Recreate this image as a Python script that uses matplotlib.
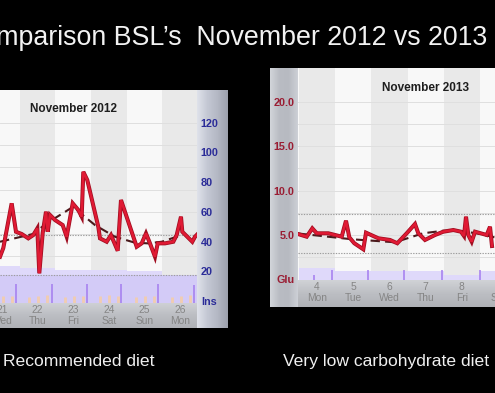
import matplotlib.pyplot as plt
import matplotlib.patheffects as pe
from matplotlib.colors import LinearSegmentedColormap
import numpy as np

plt.rcParams['font.family'] = ['Liberation Sans', 'DejaVu Sans']

W, H = 495, 393
INS = 6.0  # insulin units per glucose unit (shared vertical scale)

# ---- November 2012, recommended diet (x = day of month + fraction of day)
days12 = [21, 22, 23, 24, 25, 26]
wd12 = ['Wed', 'Thu', 'Fri', 'Sat', 'Sun', 'Mon']
t12 = [21.444, 21.537, 21.772, 21.893, 22.053, 22.239, 22.379, 22.492, 22.548, 22.643,
       22.736, 22.784, 22.848, 22.989, 23.205, 23.317, 23.486, 23.643, 23.739, 23.784,
       23.896, 24.205, 24.253, 24.441, 24.562, 24.750, 24.843, 25.284, 25.424, 25.545,
       25.657, 25.798, 25.874, 26.079, 26.312, 26.407, 26.528, 26.565, 26.846, 26.921,
       26.98]
g12 = [4.97, 5.95, 10.96, 7.77, 7.52, 7.03, 7.40, 8.15, 3.11, 7.63,
       10.02, 7.77, 9.65, 9.09, 8.52, 7.21, 10.96, 10.21, 9.46, 14.50,
       13.57, 8.33, 7.03, 6.65, 7.40, 5.64, 11.33, 6.09, 6.47, 7.59,
       6.47, 4.97, 6.47, 6.47, 6.65, 7.40, 9.46, 7.77, 6.65, 7.21,
       7.45]
trend12_t = [21.444, 22.371, 22.756, 23.503, 23.691, 24.112, 24.674, 25.236, 25.601, 25.986, 26.548]
trend12_g = [6.65, 7.52, 8.72, 10.58, 9.90, 8.52, 7.21, 6.54, 6.47, 6.65, 7.40]
bolus12_t = [21.52, 21.772, 22.267, 22.52, 22.756, 23.27, 23.522, 23.767, 24.253,
             24.514, 24.767, 25.264, 25.517, 25.77, 26.267, 26.52, 26.781]
bolus12_u = [3.6, 3.4, 3.0, 3.6, 3.8, 3.0, 3.6, 3.4, 3.2, 3.8, 3.6, 3.0, 3.6, 3.4, 3.0, 3.6, 3.8]
basal12_t = [21.885, 22.896, 23.888, 24.843, 25.882, 26.893]
basal12_u = [11.2, 11.4, 11.4, 11.6, 11.2, 11.0]
daily12_u = [23.6, 22.2, 20.9, 20.9, 20.2, 17.5]
low12_u = 17.4

# ---- November 2013, very low carbohydrate diet
days13 = [4, 5, 6, 7, 8, 9]
wd13 = ['Mon', 'Tue', 'Wed', 'Thu', 'Fri', 'Sat']
t13 = [3.975, 4.215, 4.370, 4.492, 4.812, 5.182, 5.301, 5.392, 5.530, 5.779,
       5.854, 6.193, 6.517, 6.718, 6.978, 7.207, 7.298, 7.483, 7.760, 7.989,
       8.265, 8.478, 8.561, 8.616, 8.680, 8.773, 8.865, 9.188, 9.279, 9.334]
g13 = [5.11, 4.81, 5.75, 5.19, 5.19, 4.81, 6.61, 4.74, 4.07, 3.39,
       5.26, 4.63, 4.44, 4.07, 5.19, 6.24, 5.19, 4.44, 5.00, 5.37,
       5.56, 5.37, 4.89, 7.06, 5.00, 4.25, 5.37, 5.00, 5.93, 3.76]
trend13_t = [3.975, 5.459, 6.655, 7.428, 7.989, 8.450, 8.912, 9.42]
trend13_g = [5.17, 4.52, 4.18, 5.19, 5.48, 5.45, 5.19, 4.72]
basal13_t = [4.417, 4.914, 5.909, 6.903, 7.953, 9.0]
basal13_u = [2.7, 6.3, 6.3, 6.3, 6.3, 6.3]
daily13_u = [7.9, 5.7, 5.7, 5.7, 3.0, 5.7]

glu_ticks = [0, 5, 10, 15, 20]
glu_labels = ['Glu', '5.0', '10.0', '15.0', '20.0']
ins_ticks = [0, 20, 40, 60, 80, 100, 120]
ins_labels = ['Ins', '20', '40', '60', '80', '100', '120']
target = [2.95, 7.4]
grid = [2.5, 5, 7.5, 10, 12.5, 15, 17.5, 20]


def px(x0, y0, x1, y1):
    return [x0 / W, 1 - y1 / H, (x1 - x0) / W, (y1 - y0) / H]


def strip(rect, colors, horizontal=True):
    a = fig.add_axes(px(*rect), zorder=-1)
    cmap = LinearSegmentedColormap.from_list('s', colors)
    grad = np.linspace(0, 1, 64)
    grad = grad[None, :] if horizontal else grad[:, None]
    a.imshow(grad, cmap=cmap, aspect='auto')
    a.axis('off')


def panel(rect, xlim, ylim, days, wdays, t, g, tt, tg, daily, bas_t, bas_u,
          bol_t=None, bol_u=None, low=None):
    ax = fig.add_axes(px(*rect))
    ax.set_xlim(xlim)
    ax.set_ylim(ylim)
    ax.set_facecolor('#f8f8f8')
    for s in ax.spines.values():
        s.set_visible(False)
    ax.set_xticks([])
    for d in days:
        if d % 2 == 0:
            ax.axvspan(d, d + 1, color='#e9e9e9', lw=0, zorder=0)
    for v in grid:
        ax.axhline(v, color='#dfdfdf', lw=0.7, zorder=0.5)
    ax.stairs(np.array(daily) / INS, days + [days[-1] + 1], baseline=ylim[0],
              fill=True, color='#dfd9fa', zorder=1)
    if low is not None:
        ax.axhspan(ylim[0], low / INS, color='#d3cbf7', lw=0, zorder=1.1)
    for v in target:
        ax.axhline(v, color='#9c9c9c', lw=0.8, ls=(0, (1.2, 1.2)), zorder=1.5)
    if bol_t is not None:
        ax.vlines(bol_t, ylim[0], np.array(bol_u) / INS, color='#f1cdb0', lw=2.0, zorder=2)
    ax.vlines(bas_t, ylim[0], np.array(bas_u) / INS, color='#a47cef', lw=1.1, zorder=2)
    ax.plot(tt, tg, color='#4a1a1c', lw=1.5, dashes=(4.5, 2.5), zorder=3)
    ax.plot(t, g, color='#e01a34', lw=1.8, zorder=4, solid_joinstyle='miter',
            path_effects=[pe.Stroke(linewidth=2.9, foreground='#a00d20'), pe.Normal()])
    for d, w in zip(days, wdays):
        for lab, off in ((str(d), -5.2), (w, -12.8)):
            ax.annotate(lab, xy=(d + 0.5, 0), xycoords=('data', 'axes fraction'),
                        xytext=(0, off), textcoords='offset points', ha='center',
                        va='center', fontsize=7.4, color='#858585',
                        annotation_clip=False)
    return ax


fig = plt.figure(figsize=(W / 100, H / 100), dpi=100, facecolor='black')

# left panel (November 2012)
strip((197, 90, 228, 328), ['#dfe2ea', '#c4c8d4', '#b4b8c4', '#9da1ad'])
strip((0, 303, 197, 328), ['#d0d2d6', '#bcbec3', '#afb1b6'], horizontal=False)
ax1 = panel((0, 90, 197, 303), (21.444, 26.978), (-0.22, 23.67), days12, wd12,
            t12, g12, trend12_t, trend12_g, daily12_u, basal12_t, basal12_u,
            bolus12_t, bolus12_u, low12_u)
ax1.set_yticks([])
sec = ax1.secondary_yaxis('right', functions=(lambda v: v * INS, lambda v: v / INS))
sec.set_yticks(ins_ticks, ins_labels, color='#2b2c98', fontweight='bold', fontsize=7.8)
sec.tick_params(length=0, pad=2.7)
sec.spines['right'].set_visible(False)

# right panel (November 2013)
strip((270, 68, 298, 307), ['#d2d5da', '#b9bcc3', '#b7bac1', '#cdd0d6'])
strip((298, 280, 495, 307), ['#d0d2d6', '#bcbec3', '#afb1b6'], horizontal=False)
ax2 = panel((298, 68, 495, 280), (3.975, 9.417), (-0.07, 23.81), days13, wd13,
            t13, g13, trend13_t, trend13_g, daily13_u, basal13_t, basal13_u)
ax2.set_yticks(glu_ticks, glu_labels, color='#9a1d33', fontweight='bold', fontsize=7.8)
ax2.tick_params(axis='y', length=0, pad=2.7)

fig.text(73 / W, 1 - 109.5 / H, 'November 2012', ha='center', va='center',
         fontsize=8.5, fontweight='bold', color='#1e1e1e')
fig.text(426 / W, 1 - 88 / H, 'November 2013', ha='center', va='center',
         fontsize=8.5, fontweight='bold', color='#1e1e1e')

fig.text(487 / W, 1 - 45 / H, 'Comparison BSL\u2019s  November 2012 vs 2013',
         ha='right', va='baseline', fontsize=19.3, color='#f2f2f2')
fig.text(3 / W, 1 - 365.7 / H, 'Recommended diet', ha='left', va='baseline',
         fontsize=12.6, color='#f0f0f0')
fig.text(283 / W, 1 - 365.7 / H, 'Very low carbohydrate diet', ha='left',
         va='baseline', fontsize=12.6, color='#f0f0f0')

fig.savefig('out.png', dpi=100, facecolor='black')
